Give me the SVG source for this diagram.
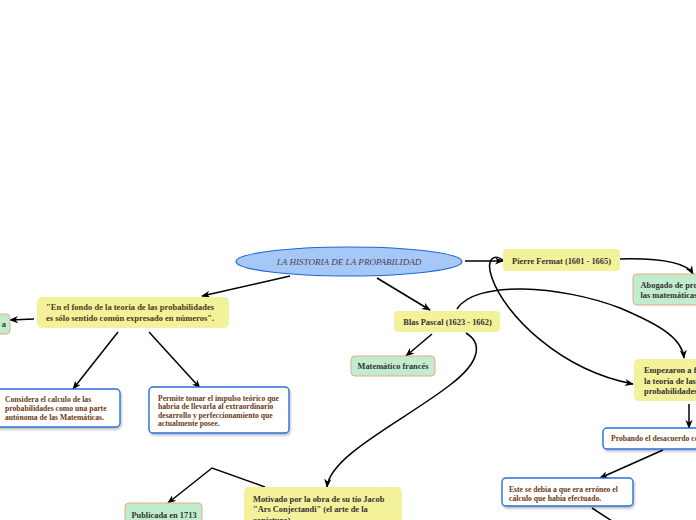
<svg xmlns="http://www.w3.org/2000/svg" width="696" height="520" viewBox="0 0 696 520">
<defs>
<marker id="arr" viewBox="0 0 10 10" refX="9" refY="5" markerWidth="9" markerHeight="9" markerUnits="userSpaceOnUse" orient="auto">
<path d="M0,1 L10,5 L0,9 L3,5 z" fill="#000"/>
</marker>
<filter id="sh" x="-10%" y="-10%" width="125%" height="140%">
<feDropShadow dx="1" dy="2" stdDeviation="1.2" flood-color="#000" flood-opacity="0.25"/>
</filter>
<style>
.yel{fill:#f4f19b;stroke:none}
.grn{fill:#c1edce;stroke:#e8a98a;stroke-width:1}
.blu{fill:#ffffff;stroke:#2a70d8;stroke-width:1.4;filter:url(#sh)}
.t{font-family:"Liberation Serif","DejaVu Serif",serif;font-weight:bold;font-size:8.4px;fill:#333333}
.tq{font-family:"Liberation Serif","DejaVu Serif",serif;font-weight:bold;font-size:8.5px;fill:#4a3b1c}
.tb{font-family:"Liberation Serif","DejaVu Serif",serif;font-weight:bold;font-size:7.65px;fill:#6b3a14}
.c{text-anchor:middle}
.ln{fill:none;stroke:#000;stroke-width:1.5;marker-end:url(#arr)}
</style>
</defs>
<rect width="696" height="520" fill="#ffffff"/>
<g id="connectors">
<path class="ln" d="M290,276 L202,296"/>
<path class="ln" d="M34,319 L10,320"/>
<path class="ln" d="M118,332 L73,389"/>
<path class="ln" d="M149,332 L200,388"/>
<path class="ln" d="M377,278 L430,310"/>
<path class="ln" d="M465,261 L503,261"/>
<path class="ln" d="M620,259 C660,258 686,262 693,274"/>
<path class="ln" d="M432,334 L406,356"/>
<path class="ln" d="M457,309 C475,280 560,285 620,308 C660,325 682,338 684,358"/>
<path class="ln" d="M466,333 C481,342 483,360 450,385 C405,420 330,455 327,487"/>
<path class="ln" d="M265,487 L212,468 L168,503"/>
<path class="ln" d="M505,262 C495,252 485,258 492,278 C505,315 560,370 633,384"/>
<path class="ln" d="M689,404 L689,428"/>
<path class="ln" d="M663,450 L600,478"/>
<path fill="none" stroke="#000" stroke-width="1.5" d="M592,508 L612,521"/>
</g>
<g id="n-root">
<ellipse cx="349" cy="261.5" rx="113" ry="14.5" fill="#a6c8f7" stroke="#2066d6" stroke-width="1.2"/>
<text x="349" y="264.5" class="c" font-family="Liberation Serif, DejaVu Serif, serif" font-style="italic" font-size="9.1px" fill="#4a4050">LA HISTORIA DE LA PROPABILIDAD</text>
</g>
<g id="n-fermat">
<rect x="503" y="249" width="117" height="22" rx="4" class="yel"/>
<text x="561.5" y="263.5" class="t c">Pierre Fermat (1601 - 1665)</text>
</g>
<g id="n-abogado">
<rect x="633" y="274" width="80" height="31" rx="4" class="grn"/>
<text class="t" font-size="8px"><tspan x="640.5" y="288">Abogado de profe</tspan><tspan x="640.5" y="298">las matemáticas.</tspan></text>
</g>
<g id="n-pascal">
<rect x="394" y="311" width="106" height="21" rx="4" class="yel"/>
<text x="447.5" y="324.5" class="t c">Blas Pascal (1623 - 1662)</text>
</g>
<g id="n-frances">
<rect x="351" y="356" width="84" height="20" rx="4" class="grn"/>
<text x="393" y="369" class="t c">Matemático francés</text>
</g>
<g id="n-quote">
<rect x="37" y="297" width="192" height="31" rx="5" class="yel"/>
<text class="tq"><tspan x="46" y="309.5">"En el fondo de la teoria de las probabilidades</tspan><tspan x="46" y="320.5">es sólo sentido común expresado en números".</tspan></text>
</g>
<g id="n-left">
<rect x="-40" y="314" width="50" height="20" rx="4" class="grn"/>
<text x="6" y="327" class="t" text-anchor="end">a</text>
</g>
<g id="n-considera">
<rect x="-5" y="389" width="125" height="38" rx="4" class="blu"/>
<text class="tb"><tspan x="5" y="401.5">Considera el calculo de las</tspan><tspan x="5" y="410.5">probabilidades como una parte</tspan><tspan x="5" y="419.5">autónoma de las Matemáticas.</tspan></text>
</g>
<g id="n-permite">
<rect x="149" y="387" width="140" height="46" rx="4" class="blu"/>
<text class="tb"><tspan x="158" y="400.5">Permite tomar el impulso teórico que</tspan><tspan x="158" y="409">habria de llevarla al extraordinario</tspan><tspan x="158" y="417.5">desarrollo y perfeccionamiento que</tspan><tspan x="158" y="426">actualmente posee.</tspan></text>
</g>
<g id="n-empezaron">
<rect x="634" y="359" width="80" height="42" rx="5" class="yel"/>
<text class="t"><tspan x="644" y="373">Empezaron a f</tspan><tspan x="644" y="383.5">la teoría de las</tspan><tspan x="644" y="394">probabilidades</tspan></text>
</g>
<g id="n-probando">
<rect x="603" y="428" width="100" height="21" rx="4" class="blu"/>
<text x="611" y="441" class="tb" font-size="8px">Probando el desacuerdo co</text>
</g>
<g id="n-este">
<rect x="502" y="478" width="131" height="28" rx="4" class="blu"/>
<text class="tb"><tspan x="509" y="491.5">Este se debia a que era erróneo el</tspan><tspan x="509" y="500.5">cálculo que habia efectuado.</tspan></text>
</g>
<g id="n-motivado">
<rect x="244" y="487" width="158" height="45" rx="5" class="yel"/>
<text class="t"><tspan x="253" y="501.5">Motivado por la obra de su tío Jacob</tspan><tspan x="253" y="512">"Ars Conjectandi" (el arte de la</tspan><tspan x="253" y="522.5">conjetura).</tspan></text>
</g>
<g id="n-publicada">
<rect x="125" y="503" width="77" height="25" rx="4" class="grn"/>
<text x="164" y="517.5" class="t c">Publicada en 1713</text>
</g>
</svg>
